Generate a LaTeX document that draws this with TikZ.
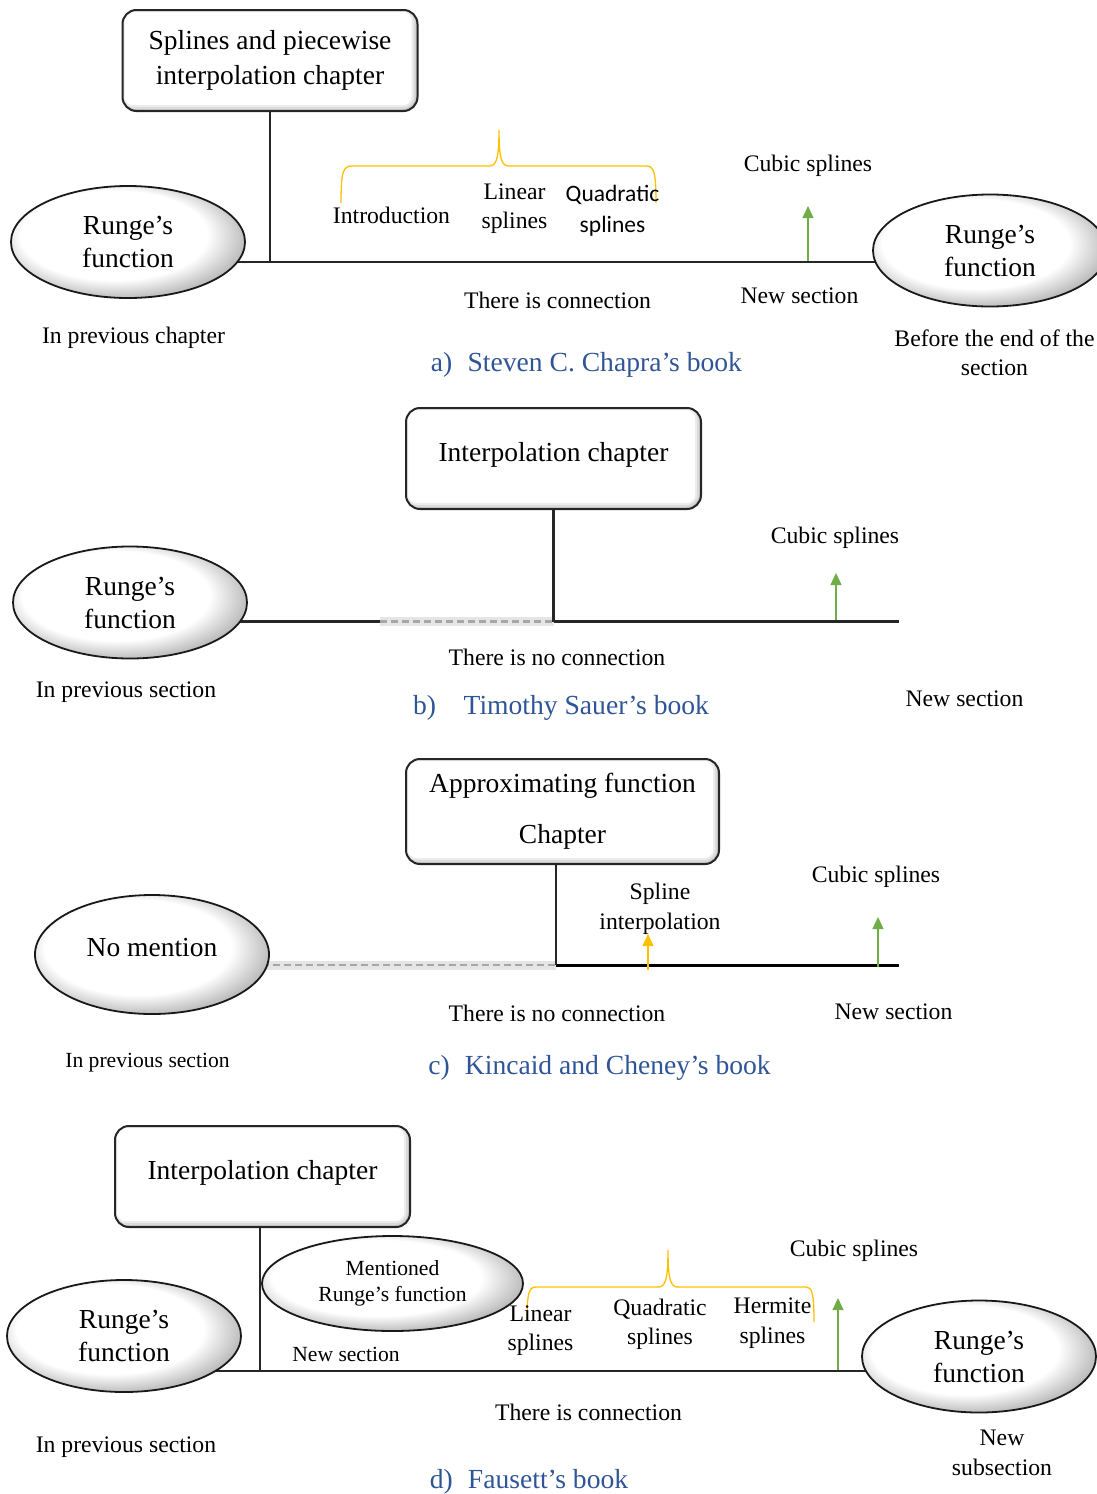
\documentclass[tikz,border=0pt]{standalone}
\usepackage{fontspec}
\setmainfont{Liberation Serif}
\newfontfamily\calfont{Carlito}
\usetikzlibrary{shapes.geometric,arrows.meta,backgrounds}
\definecolor{titleblue}{HTML}{2F5597}
\definecolor{braceyellow}{HTML}{FFC000}
\definecolor{arrowgreen}{HTML}{70AD47}
% white oval with a soft grey rim towards the lower right
\pgfdeclareradialshading{ovalshade}{\pgfpoint{-5bp}{5bp}}{%
  color(0bp)=(white); color(20bp)=(white); color(25bp)=(gray!35);
  color(30bp)=(gray!70); color(50bp)=(gray!70)}
\begin{document}
\begin{tikzpicture}[x=1pt,y=-1pt,
  lbl/.style={font=\fontsize{23.7}{29.5}\selectfont, align=center, inner sep=0pt},
  smalllbl/.style={font=\fontsize{21.6}{26}\selectfont, align=center, inner sep=0pt},
  callbl/.style={font=\calfont\fontsize{23.5}{31}\selectfont, align=center, inner sep=0pt},
  ttl/.style={font=\fontsize{27.6}{33}\selectfont, text=titleblue, inner sep=0pt},
  chapbox/.style={draw=black!85, line width=2pt, rounded corners=14pt, fill=white,
    minimum width=295pt, minimum height=101pt, inner sep=0pt, align=center,
    font=\fontsize{27.5}{35}\selectfont,
    path picture={
      \foreach \w/\c in {12/15,8/28,4/48}{
        \draw[line width=\w pt, gray!\c, rounded corners=14pt]
          ([shift={(-4pt,4pt)}]path picture bounding box.north west)
          rectangle (path picture bounding box.south east);
      }}},
  oval/.style={ellipse, draw=black!90, line width=1.8pt, shading=ovalshade,
    inner sep=0pt, align=center, font=\fontsize{27.5}{33}\selectfont,
    minimum width=234pt, minimum height=112pt},
  mainline/.style={line width=2.5pt, black!85},
  nolink/.style={line width=2.2pt, gray!70, dash pattern=on 7pt off 4pt},
  nolinkglow/.style={line width=9pt, gray!20},
  gup/.style={arrowgreen, line width=1.3pt, -{Triangle[width=11pt,length=12pt]}},
  yup/.style={braceyellow, line width=1.3pt, -{Triangle[width=11pt,length=12pt]}},
  bracepath/.style={braceyellow, line width=1.3pt}
]
\useasboundingbox (0,0) rectangle (1097,1494);

% ---------------- a) ----------------
\node[chapbox] (ba) at (270,60.5) {Splines and piecewise\\interpolation chapter};
\node[oval] (oa1) at (128,242) {Runge’s\\function};
\node[oval] (oa2) at (990,250.5) {Runge’s\\function};
\coordinate (ja) at (ba.south |- 0,262);
\begin{pgfonlayer}{background}
  \draw[mainline] (oa1.center |- ja) -- (oa2.center |- ja);
\end{pgfonlayer}
\draw[mainline] (ba.south) -- (ja);
\draw[bracepath] (341,203) .. controls (341,172) and (343,166) .. (352,166) -- (489,166)
  .. controls (496,166) and (499,160) .. (499,130)
  .. controls (499,160) and (502,166) .. (509,166) -- (646,166)
  .. controls (654,166) and (656,172) .. (656,203);
\node[lbl] (intro) at (391.5,215) {Introduction};
\node[lbl] (lina) at (514.5,208.5) {Linear\\splines};
\node[callbl] (quada) at (612.5,211) {Quadratic\\splines};
\node[lbl] (cuba) at (808,166) {Cubic splines};
\coordinate (ga0) at (808,261);
\coordinate (ga1) at (808,206);
\draw[gup] (ga0) -- (ga1);
\node[lbl] (conna) at (557.5,300) {There is connection};
\node[lbl] (newa) at (799.5,296) {New section};
\node[lbl] (preva) at (133.5,338) {In previous chapter};
\node[lbl] (enda) at (994.5,353) {Before the end of the\\section};
\node[ttl] (ta) at (586.5,365) {a)\hspace{0.55em}Steven C. Chapra’s book};

% ---------------- b) ----------------
\node[chapbox, text depth=14pt] (bb) at (553.5,458.5) {Interpolation chapter};
\node[oval] (ob1) at (130,602.5) {Runge’s\\function};
\coordinate (jb) at (bb.south |- 0,621.5);
\coordinate (db) at (380,621.5);
\coordinate (eb) at (899,621.5);
\begin{pgfonlayer}{background}
  \draw[mainline] (ob1.center |- jb) -- (db);
\end{pgfonlayer}
\draw[nolinkglow] (db) -- (jb);
\draw[nolink] (db) -- (jb);
\draw[mainline] (jb) -- (eb);
\draw[mainline] (bb.south) -- (jb);
\node[lbl] (cubb) at (835,538) {Cubic splines};
\coordinate (gb0) at (836,620);
\coordinate (gb1) at (836,573);
\draw[gup] (gb0) -- (gb1);
\node[lbl] (connb) at (557,657) {There is no connection};
\node[lbl] (prevb) at (126,692) {In previous section};
\node[lbl] (newb) at (964.5,699) {New section};
\node[ttl] (tb) at (561,708) {b)\hspace{1em}Timothy Sauer’s book};

% ---------------- c) ----------------
\node[chapbox, minimum width=313pt, minimum height=105pt, font=\fontsize{27.5}{51}\selectfont]
  (bc) at (562.5,811.5) {Approximating function\\Chapter};
\node[oval, minimum height=119pt, text depth=15pt] (oc1) at (152,954.5) {No mention};
\coordinate (jc) at (556,965);
\coordinate (ec) at (899,965);
\begin{pgfonlayer}{background}
  \draw[nolinkglow] (oc1.center |- jc) -- (jc);
  \draw[nolink] (oc1.center |- jc) -- (jc);
\end{pgfonlayer}
\draw[mainline, line width=3pt, black] (jc) -- (ec);
\draw[mainline] (jc |- bc.south) -- (jc);
\node[lbl] (splc) at (660,909) {Spline\\interpolation};
\coordinate (yc0) at (648,970);
\coordinate (yc1) at (648,934);
\draw[yup] (yc0) -- (yc1);
\node[lbl] (cubc) at (876,877) {Cubic splines};
\coordinate (gc0) at (878,967);
\coordinate (gc1) at (878,917);
\draw[gup] (gc0) -- (gc1);
\node[lbl] (connc) at (557,1013) {There is no connection};
\node[lbl] (newc) at (893.5,1012) {New section};
\node[smalllbl] (prevc) at (147.5,1063) {In previous section};
\node[ttl] (tc) at (599.5,1068) {c)\hspace{0.55em}Kincaid and Cheney’s book};

% ---------------- d) ----------------
\node[chapbox, text depth=14pt] (bd) at (262.5,1176.5) {Interpolation chapter};
\node[oval] (od1) at (124,1336) {Runge’s\\function};
\node[oval] (od3) at (979,1356.5) {Runge’s\\function};
\node[oval, minimum width=261pt, minimum height=95pt, font=\fontsize{21.6}{26}\selectfont]
  (od2) at (392.5,1283.5) {Mentioned\\Runge’s function};
\coordinate (jd) at (260,1371);
\begin{pgfonlayer}{background}
  \draw[mainline] (od1.center |- jd) -- (od3.center |- jd);
\end{pgfonlayer}
\draw[mainline] (jd |- bd.south) -- (jd);
\node[smalllbl] (newd) at (346,1354) {New section};
\draw[bracepath] (527,1320) .. controls (527,1293) and (529,1287) .. (536,1287) -- (658,1287)
  .. controls (665,1287) and (668,1281) .. (668,1250)
  .. controls (668,1281) and (671,1287) .. (678,1287) -- (806,1287)
  .. controls (812,1287) and (814,1293) .. (814,1322);
\node[lbl] (lind) at (540.5,1330.5) {Linear\\splines};
\node[lbl] (quadd) at (660,1324.5) {Quadratic\\splines};
\node[lbl] (herd) at (772.5,1323) {Hermite\\splines};
\node[lbl] (cubd) at (854,1251) {Cubic splines};
\coordinate (gd0) at (838,1370);
\coordinate (gd1) at (838,1298);
\draw[gup] (gd0) -- (gd1);
\node[lbl] (connd) at (588.5,1412) {There is connection};
\node[lbl] (newsd) at (1002,1453) {New\\subsection};
\node[lbl] (prevd) at (126,1447) {In previous section};
\node[ttl] (td) at (529,1482) {d)\hspace{0.55em}Fausett’s book};
\end{tikzpicture}
\end{document}
